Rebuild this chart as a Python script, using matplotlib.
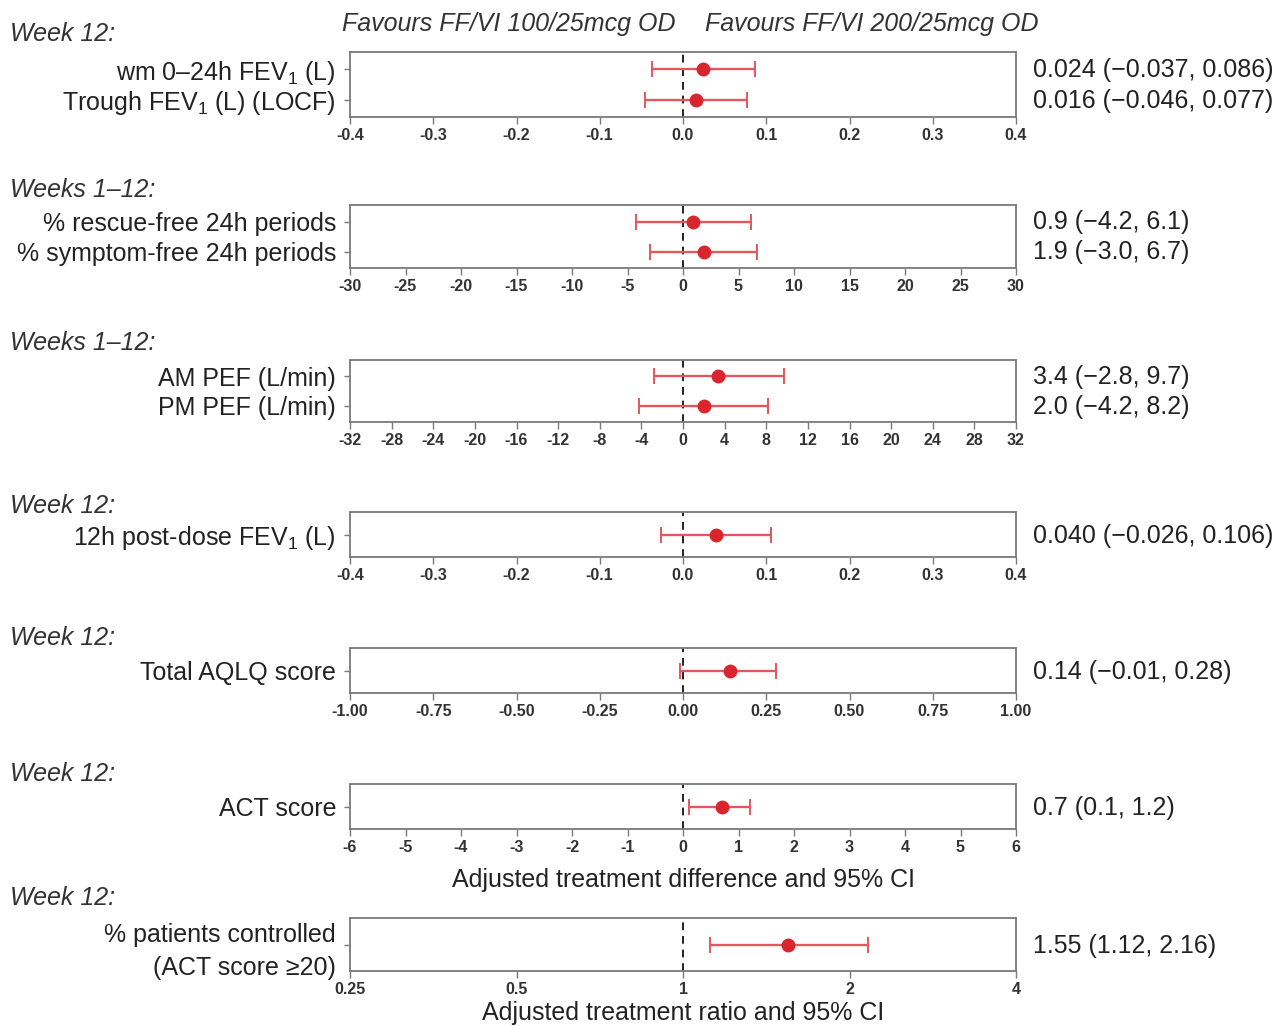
import numpy as np
import matplotlib
matplotlib.use("Agg")
import matplotlib.pyplot as plt
from matplotlib.ticker import FixedLocator, FixedFormatter, NullLocator

plt.rcParams['font.family'] = ['Liberation Sans', 'DejaVu Sans']
plt.rcParams['mathtext.fontset'] = 'custom'
plt.rcParams['mathtext.rm'] = 'Liberation Sans'
plt.rcParams['mathtext.it'] = 'Liberation Sans:italic'

# --- data ---
group_titles = ["Week 12:", "Weeks 1\u201312:", "Weeks 1\u201312:", "Week 12:",
                "Week 12:", "Week 12:", "Week 12:"]
row_labels = [
    ["wm 0\u201324h FEV$_1$ (L)", "Trough FEV$_1$ (L) (LOCF)"],
    ["% rescue-free 24h periods", "% symptom-free 24h periods"],
    ["AM PEF (L/min)", "PM PEF (L/min)"],
    ["12h post-dose FEV$_1$ (L)"],
    ["Total AQLQ score"],
    ["ACT score"],
    ["% patients controlled\n(ACT score \u226520)"],
]
estimates = [[0.024, 0.016], [0.9, 1.9], [3.4, 2.0], [0.040], [0.14], [0.7], [1.55]]
ci_low = [[-0.037, -0.046], [-4.2, -3.0], [-2.8, -4.2], [-0.026], [-0.01], [0.1], [1.12]]
ci_high = [[0.086, 0.077], [6.1, 6.7], [9.7, 8.2], [0.106], [0.28], [1.2], [2.16]]
value_text = [
    ["0.024 (\u22120.037, 0.086)", "0.016 (\u22120.046, 0.077)"],
    ["0.9 (\u22124.2, 6.1)", "1.9 (\u22123.0, 6.7)"],
    ["3.4 (\u22122.8, 9.7)", "2.0 (\u22124.2, 8.2)"],
    ["0.040 (\u22120.026, 0.106)"],
    ["0.14 (\u22120.01, 0.28)"],
    ["0.7 (0.1, 1.2)"],
    ["1.55 (1.12, 2.16)"],
]
tick_values = [
    [-0.4, -0.3, -0.2, -0.1, 0.0, 0.1, 0.2, 0.3, 0.4],
    list(range(-30, 31, 5)),
    list(range(-32, 33, 4)),
    [-0.4, -0.3, -0.2, -0.1, 0.0, 0.1, 0.2, 0.3, 0.4],
    [-1.0, -0.75, -0.5, -0.25, 0.0, 0.25, 0.5, 0.75, 1.0],
    list(range(-6, 7)),
    [0.25, 0.5, 1, 2, 4],
]
tick_labels = [
    ["-0.4", "-0.3", "-0.2", "-0.1", "0.0", "0.1", "0.2", "0.3", "0.4"],
    [str(v) for v in range(-30, 31, 5)],
    [str(v) for v in range(-32, 33, 4)],
    ["-0.4", "-0.3", "-0.2", "-0.1", "0.0", "0.1", "0.2", "0.3", "0.4"],
    ["-1.00", "-0.75", "-0.50", "-0.25", "0.00", "0.25", "0.50", "0.75", "1.00"],
    [str(v) for v in range(-6, 7)],
    ["0.25", "0.5", "1", "2", "4"],
]
null_value = [0, 0, 0, 0, 0, 0, 1]
x_titles = {5: "Adjusted treatment difference and 95% CI",
            6: "Adjusted treatment ratio and 95% CI"}
x_title_pad = {5: 9, 6: 3}

# --- layout (pixels) ---
W, H = 1281, 1026
box_left, box_right = 350, 1016
box_tops = [52, 205, 360, 512, 648, 784, 918]
box_bottoms = [117, 268, 422, 557, 693, 829, 971]
title_y = [34, 190, 343, 506, 638, 774, 898]

FS = 18

fig = plt.figure(figsize=(W / 100, H / 100), dpi=100)

red = "#d9262e"
err_red = "#e2575c"
frame = "#7a7a7a"

for i in range(len(estimates)):
    top, bottom = box_tops[i], box_bottoms[i]
    ax = fig.add_axes([box_left / W, 1 - bottom / H,
                       (box_right - box_left) / W, (bottom - top) / H])
    n = len(estimates[i])
    ypos = np.arange(n)[::-1]
    if n == 2:
        ax.set_ylim(-0.55, 1.55)
    else:
        ax.set_ylim(-0.5, 0.5)
    if i == 6:
        ax.set_xscale('log', base=2)
        ax.set_xlim(0.25, 4)
    else:
        ax.set_xlim(tick_values[i][0], tick_values[i][-1])
    est = np.array(estimates[i])
    lo = np.array(ci_low[i])
    hi = np.array(ci_high[i])
    ax.axvline(null_value[i], color="#222222", ls=(0, (4, 3)), lw=1.4, zorder=1)
    ax.errorbar(est, ypos, xerr=[est - lo, hi - est], fmt='none',
                ecolor=err_red, elinewidth=1.7, capsize=5.5, capthick=1.4, zorder=2)
    ax.plot(est, ypos, 'o', color=red, markersize=9, zorder=3)

    ax.xaxis.set_major_locator(FixedLocator(tick_values[i]))
    ax.xaxis.set_major_formatter(FixedFormatter(tick_labels[i]))
    ax.xaxis.set_minor_locator(NullLocator())
    ax.set_yticks(ypos)
    ax.set_yticklabels(row_labels[i], fontsize=FS, color="#222222",
                       linespacing=1.45)
    ax.tick_params(axis='x', labelsize=11.5, length=5, width=1, color=frame,
                   labelcolor="#333333", pad=3)
    ax.tick_params(axis='y', length=4, width=1, color=frame, pad=6)
    for lbl in ax.get_xticklabels():
        lbl.set_fontweight('bold')
    for sp in ax.spines.values():
        sp.set_color(frame)
        sp.set_linewidth(1.3)

    for k in range(n):
        yy = ypos[k]
        ax.annotate(value_text[i][k], xy=(1, yy), xycoords=('axes fraction', 'data'),
                    xytext=(17, -1), textcoords='offset pixels',
                    ha='left', va='center', fontsize=FS, color="#222222")

    fig.text(10 / W, 1 - title_y[i] / H, group_titles[i], fontsize=FS,
             style='italic', color="#333333", ha='left', va='center')

    if i in x_titles:
        ax.set_xlabel(x_titles[i], fontsize=FS, color="#222222",
                      labelpad=x_title_pad[i])

fig.text(676 / W, 1 - 24 / H, "Favours FF/VI 100/25mcg OD", fontsize=FS,
         style='italic', color="#333333", ha='right', va='center')
fig.text(705 / W, 1 - 24 / H, "Favours FF/VI 200/25mcg OD", fontsize=FS,
         style='italic', color="#333333", ha='left', va='center')

fig.savefig("out.png", dpi=100)
